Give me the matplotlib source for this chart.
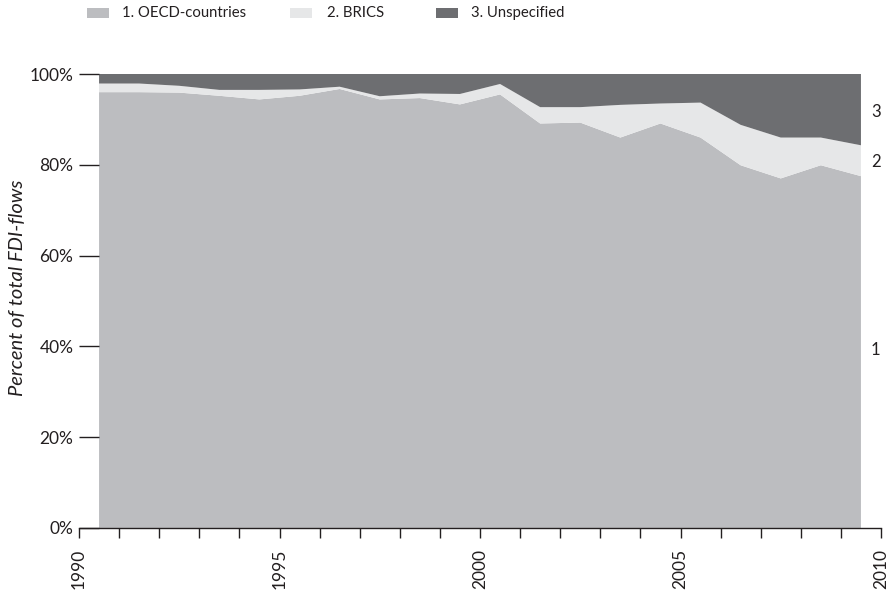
import matplotlib
matplotlib.use("Agg")
import matplotlib.pyplot as plt
from matplotlib.patches import Rectangle
import numpy as np

plt.rcParams['font.family'] = ['Lato', 'DejaVu Sans']

# Data (year midpoints)
years = list(range(1990, 2010))
oecd = [96.0, 96.0, 95.9, 95.2, 94.4, 95.2, 96.7, 94.4, 94.7, 93.3,
        95.5, 89.1, 89.3, 86.0, 89.1, 86.0, 79.9, 77.0, 79.9, 77.5]
oecd_brics = [97.9, 97.9, 97.4, 96.5, 96.5, 96.6, 97.2, 95.1, 95.7, 95.6,
              97.8, 92.7, 92.7, 93.2, 93.5, 93.7, 88.8, 86.0, 86.0, 84.3]
brics = [b - o for b, o in zip(oecd_brics, oecd)]
unspecified = [100 - b for b in oecd_brics]

series_names = ["1. OECD-countries", "2. BRICS", "3. Unspecified"]
short_labels = ["1", "2", "3"]
colors = ["#bcbdc0", "#e6e7e8", "#6d6e71"]
yticks = [0, 20, 40, 60, 80, 100]
ytick_labels = ["0%", "20%", "40%", "60%", "80%", "100%"]
xlabel_years = [1990, 1995, 2000, 2005, 2010]

W, H = 890, 596
fig = plt.figure(figsize=(W / 100, H / 100), dpi=100)
ax = fig.add_axes([79 / W, 1 - 528 / H, (881 - 79) / W, (528 - 74) / H])

x = np.array(years) + 0.5
ax.stackplot(x, oecd, brics, unspecified, colors=colors, linewidth=0)

ax.set_xlim(1990, 2010)
ax.set_ylim(0, 100)

for s in ["top", "right", "left"]:
    ax.spines[s].set_visible(False)
ax.spines["bottom"].set_color("#231f20")
ax.spines["bottom"].set_linewidth(1.0)

ax.set_xticks(range(1990, 2011))
ax.set_xticklabels([str(y) if y in xlabel_years else "" for y in range(1990, 2011)],
                   rotation=90, fontsize=12.5, color="#231f20")
ax.tick_params(axis="x", direction="out", length=7, width=1.0, color="#231f20", pad=8)

ax.set_yticks(yticks)
ax.set_yticklabels(ytick_labels, fontsize=12.5, color="#231f20")
ax.tick_params(axis="y", length=0, pad=4)
ax.hlines(yticks, 1990, 1990.5, color="#231f20", linewidth=1.0, clip_on=False)

ax.set_ylabel("Percent of total FDI-flows", fontsize=14.5, style="italic",
              color="#231f20")
ax.yaxis.set_label_coords(-(79 - 26) / (881 - 79), 0.53)

# Right-side series labels
def ypix_to_data(yp):
    return (528 - yp) / (528 - 74) * 100

for lab, yp in zip(short_labels, [350, 162, 112]):
    ax.text(2009.87, ypix_to_data(yp), lab, fontsize=12, color="#231f20",
            va="center", ha="center", clip_on=False)

# Legend (manual placement)
legend_patch_x = [87, 290, 436]
legend_text_x = [122, 327, 471]
for name, c, px, tx in zip(series_names, colors, legend_patch_x, legend_text_x):
    fig.patches.append(Rectangle((px / W, 1 - 17.5 / H), 22 / W, 9 / H,
                                 transform=fig.transFigure, facecolor=c,
                                 edgecolor="none"))
    fig.text(tx / W, 1 - 13 / H, name, fontsize=10.7, color="#231f20",
             va="center", ha="left")

fig.savefig("out.png", dpi=100)
